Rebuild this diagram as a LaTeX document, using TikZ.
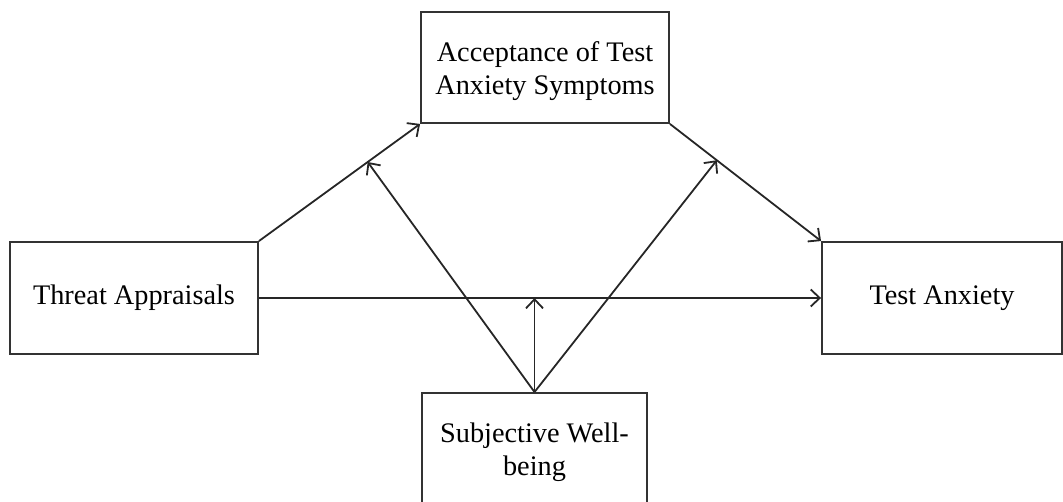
\documentclass[tikz,border=0pt]{standalone}
\usepackage{fontspec}
\setmainfont{Liberation Serif}
\usetikzlibrary{arrows.meta}
\begin{document}
\begin{tikzpicture}[x=1pt,y=-1pt,
  box/.style={draw=black!80,line width=1.9pt,inner sep=0pt,align=center,
    font=\fontsize{28.3}{33}\selectfont},
  arr/.style={draw=black!85,line width=1.8pt,-{Straight Barb[length=9pt,width=17pt,line width=1.8pt]}},
  ln/.style={draw=black!85,line width=1.8pt}]
\useasboundingbox (0,0) rectangle (1063,502);
\node[box,minimum width=248pt,minimum height=111pt] (acc) at (545,67.5) {};
\node[font=\fontsize{28.3}{33}\selectfont,align=center,inner sep=0pt] (acct) at (545,71) {Acceptance of Test\\Anxiety Symptoms};
\node[box,minimum width=248pt,minimum height=112pt] (thr) at (134,298) {Threat Appraisals};
\node[box,minimum width=240pt,minimum height=112pt] (ta) at (942,298) {Test Anxiety};
\node[box,minimum width=225pt,minimum height=118pt] (sub) at (534.5,452) {Subjective Well-\\being};
\draw[arr] (thr.north east) -- (acc.south west) coordinate[pos=0.675] (m1);
\draw[arr] (acc.south east) -- (ta.north west) coordinate[pos=0.31] (m2);
\draw[arr] (thr.east) -- (ta.west);
\coordinate (m3) at (sub.north |- thr.east);
\draw[arr] (sub.north) -- (m3);
\draw[arr] (sub.north) -- (m1);
\draw[arr] (sub.north) -- (m2);
\end{tikzpicture}
\end{document}
